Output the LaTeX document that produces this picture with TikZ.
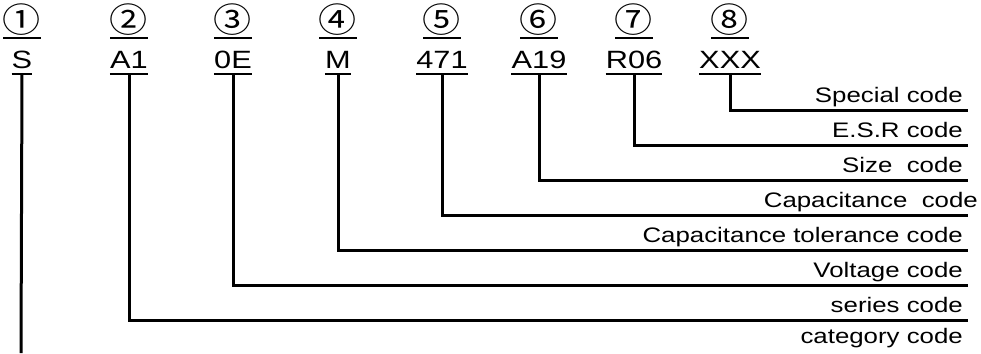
\documentclass[tikz,border=0pt]{standalone}
\usepackage{fontspec}
\setmainfont[FakeStretch=1.23]{Liberation Sans}
\newfontfamily\circfont[FakeStretch=1.12]{Noto Sans CJK JP}
\usetikzlibrary{positioning}
\tikzset{
	codetext/.style={font=\fontsize{25}{25}\selectfont, inner sep=0pt, anchor=base},
	numtext/.style={font=\circfont\fontsize{34}{34}\selectfont, inner sep=0pt},
	labtext/.style={font=\fontsize{21}{21}\selectfont, inner sep=0pt, anchor=base east},
	wire/.style={line width=3pt},
	bar/.style={line width=2pt}
}
\begin{document}
\begin{tikzpicture}[x=1pt,y=-1pt]
			\useasboundingbox (0,0) rectangle (981,353);
			% number, code and the two bars of each column
			\foreach \i/\x/\num/\code in {1/22/①/S,2/129/②/A1,3/233/③/0E,4/338/④/M,5/442/⑤/471,6/539/⑥/A19,7/634/⑦/R06,8/730/⑧/XXX}{
				\node[numtext] (num\i) at (\x,20) {\num};
				\draw [bar] (\x-19,38)--(\x+19,38);
				\node[codetext] (code\i) at (\x,68) {\code};
				\draw [bar] ([yshift=-6pt]code\i.base west)--([yshift=-6pt]code\i.base east);
			}
			% leaders to the right
			\foreach \i/\y/\xr/\lab in {2/320/963/series code,3/285/963/Voltage code,4/250/963/Capacitance tolerance code,5/215/978/Capacitance\ \ code,6/180/963/Size\ \ code,7/145/963/E.S.R code,8/110/963/Special code}{
				\coordinate (end\i) at (968,\y);
				\draw [wire] ([yshift=-6pt]code\i.base) |- (end\i);
				\node[labtext] (lab\i) at (\xr,\y-8) {\lab};
			}
			\coordinate (end1) at (21,353);
			\draw [wire] ([yshift=-6pt]code1.base) -- (end1);
			\node[labtext] (lab1) at (963,343) {category code};
\end{tikzpicture}
\end{document}
